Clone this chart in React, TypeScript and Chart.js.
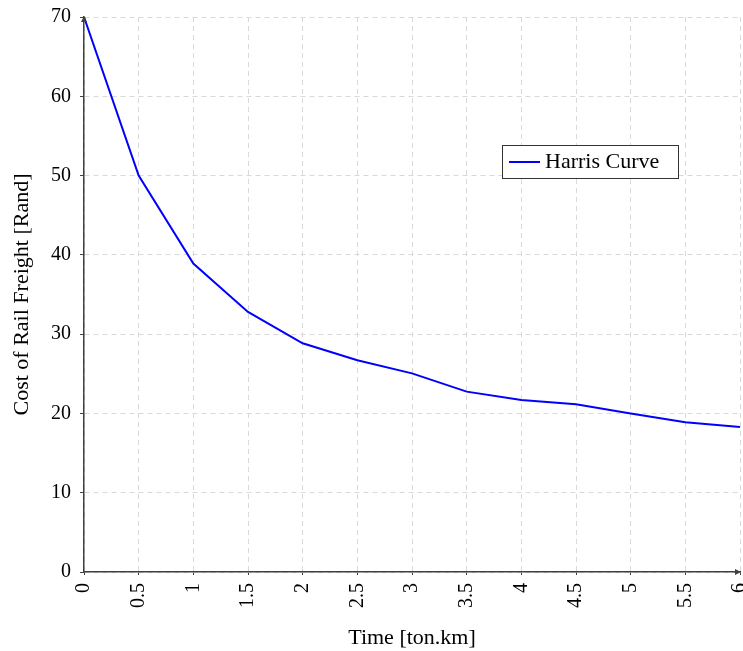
import React, { useEffect, useRef } from "react";
import { Chart, registerables } from "chart.js";

Chart.register(...registerables);

const timeValues = [0, 0.5, 1, 1.5, 2, 2.5, 3, 3.5, 4, 4.5, 5, 5.5, 6];
const costValues = [70, 50, 38.9, 32.8, 28.85, 26.7, 25.05, 22.75, 21.7, 21.15, 20.0, 18.9, 18.3];
const seriesLabel = "Harris Curve";
const xTitle = "Time [ton.km]";
const yTitle = "Cost of Rail Freight [Rand]";

const FONT = "'Liberation Serif', 'Times New Roman', serif";
const AXIS_COLOR = "#404040";
const GRID_COLOR = "#d9d9d9";

const decorPlugin = {
  id: "decor",
  afterDraw(chart: any) {
    const { ctx, chartArea } = chart;
    const { left, right, top, bottom } = chartArea;
    ctx.save();
    ctx.fillStyle = AXIS_COLOR;
    // arrow at top of y axis
    ctx.beginPath();
    ctx.moveTo(left, top - 1);
    ctx.lineTo(left - 3, top + 5);
    ctx.lineTo(left + 3, top + 5);
    ctx.closePath();
    ctx.fill();
    // arrow at right of x axis
    ctx.beginPath();
    ctx.moveTo(right + 1, bottom);
    ctx.lineTo(right - 5, bottom - 3);
    ctx.lineTo(right - 5, bottom + 3);
    ctx.closePath();
    ctx.fill();

    // legend box
    const ds = chart.data.datasets[0];
    const bx = left + 418;
    const by = top + 128;
    const bw = 176;
    const bh = 33;
    ctx.fillStyle = "#ffffff";
    ctx.fillRect(bx, by, bw, bh);
    ctx.strokeStyle = "#333333";
    ctx.lineWidth = 1;
    ctx.strokeRect(bx + 0.5, by + 0.5, bw, bh);
    ctx.strokeStyle = ds.borderColor;
    ctx.lineWidth = 2;
    ctx.beginPath();
    ctx.moveTo(bx + 7, by + 17);
    ctx.lineTo(bx + 38, by + 17);
    ctx.stroke();
    ctx.fillStyle = "#000000";
    ctx.font = `22px ${FONT}`;
    ctx.textAlign = "left";
    ctx.textBaseline = "middle";
    ctx.fillText(ds.label, bx + 43, by + 17);
    ctx.restore();
  },
};

export default function App() {
  const canvasRef = useRef<HTMLCanvasElement | null>(null);

  useEffect(() => {
    const canvas = canvasRef.current;
    if (!canvas) return;
    const points = timeValues.map((x, i) => ({ x, y: costValues[i] }));
    const chart = new Chart(canvas, {
      type: "line",
      data: {
        datasets: [
          {
            label: seriesLabel,
            data: points,
            borderColor: "#0000ff",
            backgroundColor: "#0000ff",
            borderWidth: 2,
            pointRadius: 0,
            tension: 0,
            fill: false,
          },
        ],
      },
      options: {
        responsive: false,
        animation: false,
        layout: { padding: { left: 0, right: 3, top: 17, bottom: 0 } },
        plugins: {
          legend: { display: false },
          tooltip: { enabled: false },
        },
        scales: {
          x: {
            type: "linear",
            min: 0,
            max: 6,
            grid: {
              color: GRID_COLOR,
              drawTicks: true,
              tickLength: 3,
              tickColor: AXIS_COLOR,
              tickBorderDash: [],
              lineWidth: 1,
            },
            border: { display: true, color: AXIS_COLOR, width: 1.5, dash: [5, 4] },
            ticks: {
              stepSize: 0.5,
              autoSkip: false,
              minRotation: 90,
              maxRotation: 90,
              padding: 8,
              color: "#000000",
              font: { family: FONT, size: 20 },
              callback: (v: any) => String(Number(v)),
            },
            title: {
              display: true,
              text: xTitle,
              color: "#000000",
              font: { family: FONT, size: 22, lineHeight: 1.2 },
              padding: { top: 2, bottom: 0 },
            },
            afterFit(scale: any) {
              scale.height = 79;
              scale.paddingLeft = 0;
              scale.paddingRight = 0;
            },
          },
          y: {
            type: "linear",
            min: 0,
            max: 70,
            grid: {
              color: GRID_COLOR,
              drawTicks: true,
              tickLength: 4,
              tickColor: AXIS_COLOR,
              tickBorderDash: [],
              lineWidth: 1,
            },
            border: { display: true, color: AXIS_COLOR, width: 1.5, dash: [5, 4] },
            ticks: {
              stepSize: 10,
              padding: 9,
              color: "#000000",
              font: { family: FONT, size: 20 },
              callback: (v: any) => String(Number(v)),
            },
            title: {
              display: true,
              text: yTitle,
              color: "#000000",
              font: { family: FONT, size: 22, lineHeight: 1.2 },
              padding: { top: 9, bottom: 0 },
            },
            afterFit(scale: any) {
              scale.width = 84;
              scale.paddingTop = 0;
              scale.paddingBottom = 0;
            },
          },
        },
      },
      plugins: [decorPlugin],
    } as any);
    return () => chart.destroy();
  }, []);

  return (
    <div style={{ position: "fixed", left: 0, top: 0, width: 743, height: 651, background: "#fff" }}>
      <canvas ref={canvasRef} width={743} height={651} style={{ display: "block" }} />
    </div>
  );
}
